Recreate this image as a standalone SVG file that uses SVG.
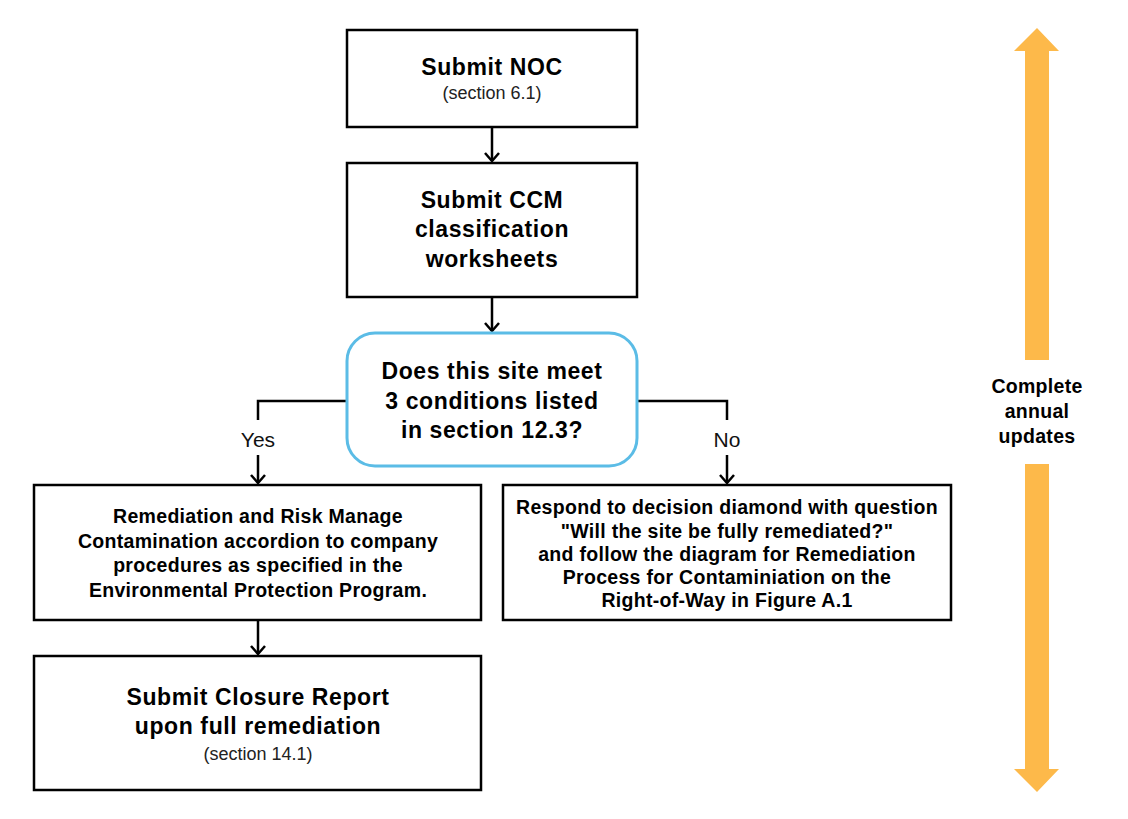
<svg xmlns="http://www.w3.org/2000/svg" width="1128" height="819" viewBox="0 0 1128 819">
<style>
.box{fill:#fff;stroke:#000;stroke-width:2.5}
.dec{fill:#fff;stroke:#5bbce6;stroke-width:3}
.t{font-family:"Liberation Sans",Arial,sans-serif;fill:#000;text-anchor:middle}
.h{font-size:23px;font-weight:bold;letter-spacing:0.6px}
.s{font-size:18px;fill:#222}
.m{font-size:19.5px;font-weight:bold;letter-spacing:0.3px}
.l{font-size:21px;fill:#111}
.c{stroke:#000;stroke-width:2.5;fill:none}
.o{fill:#fdb94a}
</style>
<defs>
<marker id="ah" markerWidth="12" markerHeight="16" viewBox="0 0 12 16" refX="11" refY="8" orient="auto" markerUnits="userSpaceOnUse">
<path d="M3,1 L11,8 L3,15" fill="none" stroke="#000" stroke-width="2.5"/>
</marker>
</defs>
<rect width="1128" height="819" fill="#fff"/>
<g id="connectors">
<path class="c" d="M492,127 V161" marker-end="url(#ah)"/>
<path class="c" d="M492,297 V331" marker-end="url(#ah)"/>
<path class="c" d="M347,401 H258 V420"/>
<path class="c" d="M258,455 V483" marker-end="url(#ah)"/>
<path class="c" d="M637,401 H727 V420"/>
<path class="c" d="M727,455 V483" marker-end="url(#ah)"/>
<path class="c" d="M258,620 V654" marker-end="url(#ah)"/>
<text class="t l" x="258" y="447">Yes</text>
<text class="t l" x="727" y="447">No</text>
</g>
<g id="noc">
<rect class="box" x="347" y="30" width="290" height="97"/>
<text class="t h" x="492" y="75">Submit NOC</text>
<text class="t s" x="492" y="99">(section 6.1)</text>
</g>
<g id="ccm">
<rect class="box" x="347" y="163" width="290" height="134"/>
<text class="t h" x="492" y="208">Submit CCM</text>
<text class="t h" x="492" y="237">classification</text>
<text class="t h" x="492" y="267">worksheets</text>
</g>
<g id="decision">
<rect class="dec" x="347" y="333" width="290" height="133" rx="28"/>
<text class="t h" x="492" y="379">Does this site meet</text>
<text class="t h" x="492" y="409">3 conditions listed</text>
<text class="t h" x="492" y="438">in section 12.3?</text>
</g>
<g id="remediation">
<rect class="box" x="34" y="485" width="447" height="135"/>
<text class="t m" x="258" y="523">Remediation and Risk Manage</text>
<text class="t m" x="258" y="548">Contamination accordion to company</text>
<text class="t m" x="258" y="572">procedures as specified in the</text>
<text class="t m" x="258" y="597">Environmental Protection Program.</text>
</g>
<g id="respond">
<rect class="box" x="503" y="485" width="448" height="135"/>
<text class="t m" x="727" y="514">Respond to decision diamond with question</text>
<text class="t m" x="727" y="538">"Will the site be fully remediated?"</text>
<text class="t m" x="727" y="561">and follow the diagram for Remediation</text>
<text class="t m" x="727" y="584">Process for Contaminiation on the</text>
<text class="t m" x="727" y="607">Right-of-Way in Figure A.1</text>
</g>
<g id="closure">
<rect class="box" x="34" y="656" width="447" height="134"/>
<text class="t h" x="258" y="705">Submit Closure Report</text>
<text class="t h" x="258" y="734">upon full remediation</text>
<text class="t s" x="258" y="760">(section 14.1)</text>
</g>
<g id="annual">
<polygon class="o" points="1037,28 1059,51 1049,51 1049,360 1025,360 1025,51 1014,51"/>
<polygon class="o" points="1025,464 1049,464 1049,769 1059,769 1037,792 1014,769 1025,769"/>
<text class="t m" x="1037" y="393">Complete</text>
<text class="t m" x="1037" y="418">annual</text>
<text class="t m" x="1037" y="443">updates</text>
</g>
</svg>
